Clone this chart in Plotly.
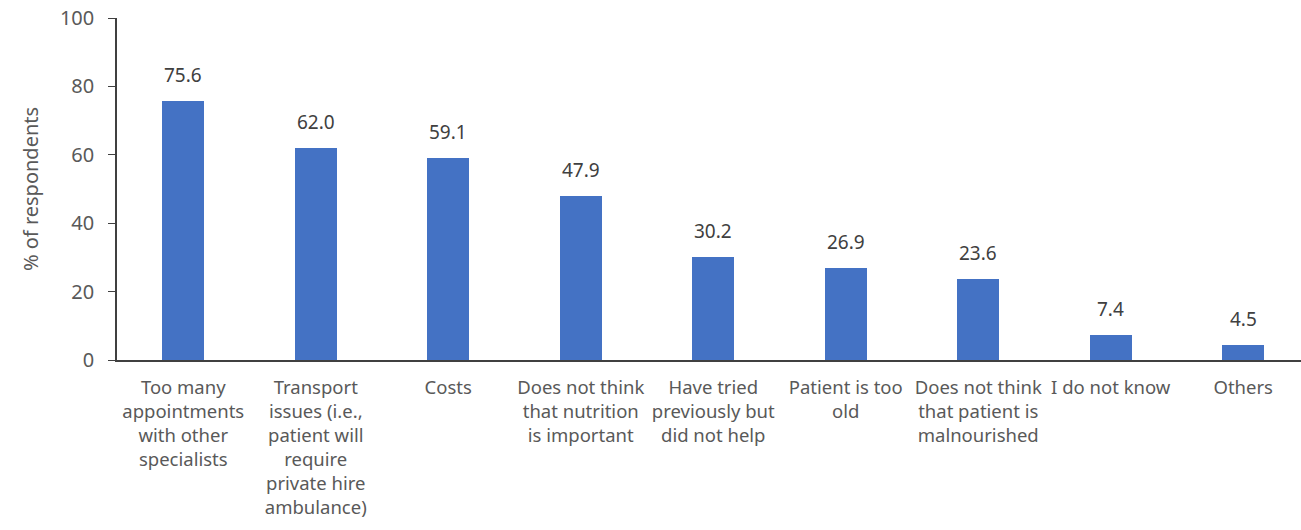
import plotly.graph_objects as go

categories = [
    "Too many<br>appointments<br>with other<br>specialists",
    "Transport<br>issues (i.e.,<br>patient will<br>require<br>private hire<br>ambulance)",
    "Costs",
    "Does not think<br>that nutrition<br>is important",
    "Have tried<br>previously but<br>did not help",
    "Patient is too<br>old",
    "Does not think<br>that patient is<br>malnourished",
    "I do not know",
    "Others",
]
percentages = [75.6, 62.0, 59.1, 47.9, 30.2, 26.9, 23.6, 7.4, 4.5]
y_ticks = [0, 20, 40, 60, 80, 100]

FONT = "Noto Sans"
BAR_COLOR = "#4472C4"
TEXT_GREY = "#595959"
AXIS_GREY = "#404040"

xs = list(range(len(categories)))

fig = go.Figure(
    go.Bar(
        x=xs,
        y=percentages,
        width=0.32,
        marker=dict(color=BAR_COLOR, line=dict(width=0)),
        hoverinfo="skip",
    )
)

# value labels above each bar
for x, v in zip(xs, percentages):
    fig.add_annotation(
        x=x, y=v, text=f"{v:.1f}", showarrow=False,
        yanchor="bottom", yshift=11,
        font=dict(family=FONT, size=19, color=AXIS_GREY),
    )

fig.update_layout(
    width=1301,
    height=530,
    margin=dict(l=117, r=0, t=18, b=170),
    plot_bgcolor="white",
    paper_bgcolor="white",
    showlegend=False,
    font=dict(family=FONT, size=18, color=TEXT_GREY),
    bargap=0,
)

fig.update_xaxes(
    range=[-0.5, 8.436],
    tickmode="array",
    tickvals=xs,
    ticktext=categories,
    tickangle=0,
    ticks="",
    ticklabelstandoff=10,
    showline=True,
    linecolor=AXIS_GREY,
    linewidth=1.5,
    showgrid=False,
    zeroline=False,
    tickfont=dict(family=FONT, size=18.5, color=TEXT_GREY),
)

fig.update_yaxes(
    range=[0, 100],
    tickmode="array",
    tickvals=y_ticks,
    ticks="outside",
    ticklen=7,
    tickcolor=AXIS_GREY,
    ticklabelstandoff=10,
    showline=True,
    linecolor=AXIS_GREY,
    linewidth=1.5,
    showgrid=False,
    zeroline=False,
    tickfont=dict(family=FONT, size=20, color=TEXT_GREY),
    title=dict(text="% of respondents", font=dict(family=FONT, size=20, color=TEXT_GREY), standoff=16),
)

fig.write_html("out.html")
